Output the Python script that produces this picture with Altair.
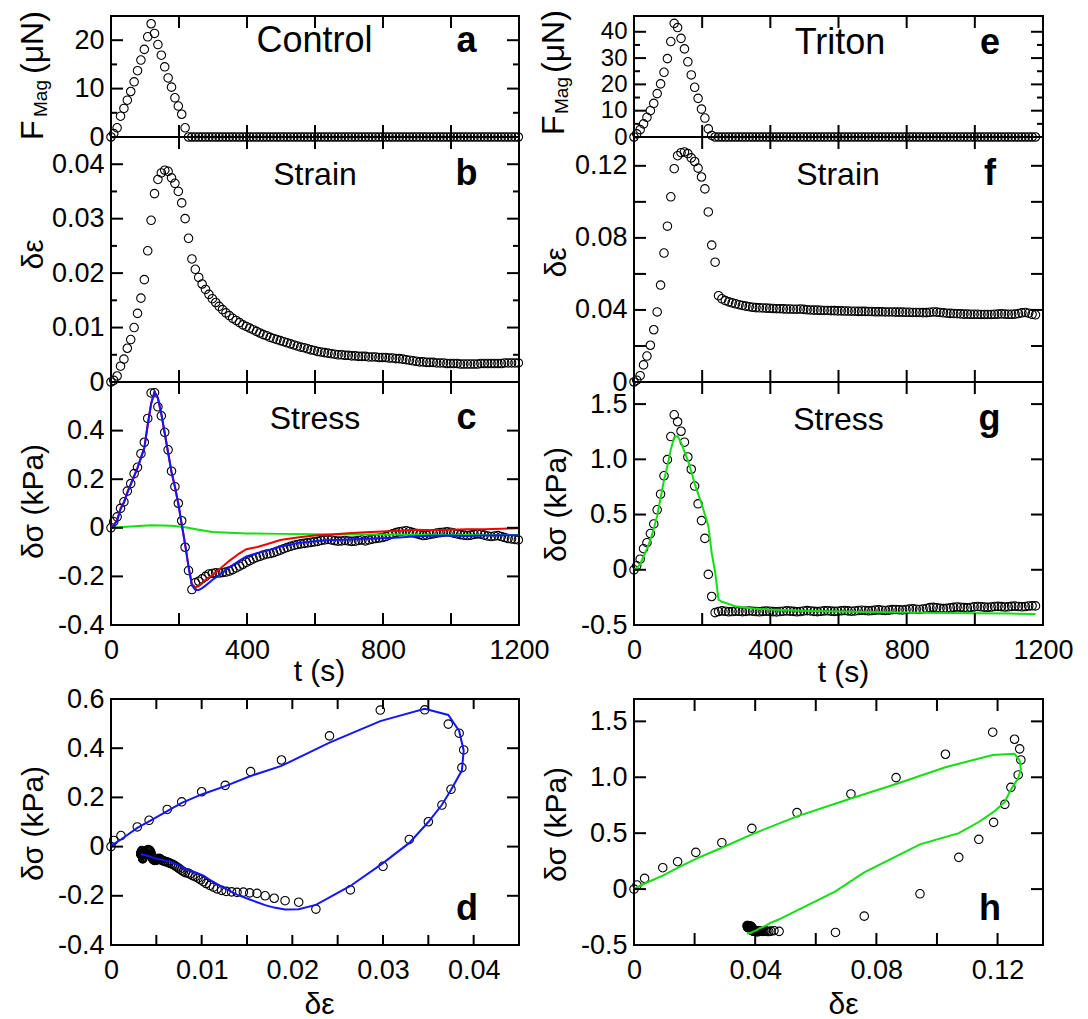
import altair as alt
import pandas as pd

FONT = "Liberation Sans"

# ---------------- data ----------------
# Control: sampling times (s)
T_CTRL = [0] + list(range(8, 1199, 10))
F_CTRL = [0, 0.7, 1.9, 4.3, 5.9, 7.6, 9.4, 11.4, 13.7, 15.9, 18.1, 20.7, 23.4,
          21.4, 19.1, 16.9, 14.5, 12.2, 10.3, 8.1, 6.4, 4.7, 1.9, 0.0] + [0.0] * 97
STRAIN_CTRL = [0, 0.0003, 0.0011, 0.0029, 0.0042, 0.0062, 0.0078, 0.0100, 0.0126, 0.0154,
               0.0188, 0.0241, 0.0297, 0.0346, 0.0372, 0.0384, 0.0389, 0.0387, 0.0375, 0.0365,
               0.0350, 0.0329, 0.0300, 0.0264, 0.0226,
               0.0207, 0.0192, 0.0180, 0.0170, 0.0161, 0.0153, 0.0146, 0.0139, 0.0133, 0.0127,
               0.0122, 0.0117, 0.0113, 0.0109, 0.0105, 0.0102, 0.0099, 0.0096, 0.0093, 0.0090,
               0.0087, 0.0085, 0.0082, 0.0080, 0.0078, 0.0076, 0.0074, 0.0072, 0.0070, 0.0068,
               0.0066, 0.0064, 0.0063, 0.0061, 0.0059, 0.0058, 0.0056, 0.0055, 0.0054, 0.0053,
               0.0052, 0.0051, 0.0050, 0.0050, 0.0049, 0.0049, 0.0048, 0.0048, 0.0047, 0.0047,
               0.0047, 0.0046, 0.0046, 0.0046, 0.0045, 0.0045, 0.0045, 0.0044, 0.0044, 0.0043,
               0.0043, 0.0042, 0.0041, 0.0040, 0.0039, 0.0038, 0.0037, 0.0037, 0.0036, 0.0036,
               0.0036, 0.0035, 0.0035, 0.0035, 0.0034, 0.0034, 0.0034, 0.0034, 0.0033, 0.0033,
               0.0033, 0.0033, 0.0033, 0.0033, 0.0034, 0.0034, 0.0034, 0.0034, 0.0034, 0.0034,
               0.0034, 0.0035, 0.0035, 0.0035, 0.0035, 0.0035]
STRESS_CTRL = [0, 0.025, 0.045, 0.080, 0.107, 0.151, 0.182, 0.223, 0.249, 0.305,
               0.352, 0.450, 0.555, 0.556, 0.498, 0.461, 0.393, 0.321, 0.233, 0.169,
               0.101, 0.029, -0.080, -0.176, -0.254,
               -0.226, -0.220, -0.210, -0.200, -0.190, -0.188, -0.185, -0.186, -0.184, -0.182,
               -0.178, -0.172, -0.165, -0.158, -0.150, -0.142, -0.135, -0.128, -0.122, -0.118,
               -0.112, -0.108, -0.106, -0.102, -0.097, -0.092, -0.086, -0.081, -0.076, -0.072,
               -0.069, -0.066, -0.064, -0.062, -0.060, -0.058, -0.056, -0.052, -0.050, -0.048,
               -0.050, -0.053, -0.055, -0.054, -0.052, -0.054, -0.056, -0.055, -0.052, -0.050,
               -0.054, -0.050, -0.047, -0.044, -0.042, -0.040, -0.036, -0.030, -0.025, -0.020,
               -0.016, -0.014, -0.012, -0.015, -0.020, -0.024, -0.028, -0.032, -0.030, -0.027,
               -0.025, -0.022, -0.020, -0.018, -0.016, -0.018, -0.022, -0.025, -0.028, -0.030,
               -0.032, -0.030, -0.027, -0.025, -0.026, -0.030, -0.034, -0.036, -0.034, -0.032,
               -0.036, -0.040, -0.044, -0.046, -0.048, -0.050]
# model curves (control)
T_FIT_CTRL = [0, 8, 18, 28, 38, 48, 58, 68, 78, 88, 98, 108, 118, 128, 138, 148, 158, 168,
              178, 188, 198, 208, 218, 228, 238, 248,
              258, 268, 278, 298, 318, 348, 378, 398, 428, 458, 498, 548, 598, 648, 698,
              748, 798, 848, 898, 948, 998, 1048, 1098, 1148, 1198]
BLUE_CTRL = [0, 0.010, 0.029, 0.076, 0.103, 0.144, 0.178, 0.212, 0.246, 0.287, 0.328, 0.423,
             0.510, 0.560, 0.535, 0.470, 0.390, 0.310, 0.230, 0.170, 0.100, 0.015, -0.067,
             -0.160, -0.237, -0.255,
             -0.256, -0.248, -0.238, -0.215, -0.195, -0.163, -0.135, -0.118, -0.105, -0.095,
             -0.078, -0.063, -0.055, -0.050, -0.048, -0.045, -0.043, -0.040, -0.035, -0.033,
             -0.032, -0.034, -0.032, -0.031, -0.031]
RED_CTRL = [0, 0.012, 0.032, 0.080, 0.106, 0.147, 0.180, 0.214, 0.248, 0.289, 0.330, 0.425,
            0.512, 0.558, 0.532, 0.468, 0.388, 0.308, 0.228, 0.168, 0.098, 0.013, -0.069,
            -0.160, -0.232, -0.245,
            -0.240, -0.226, -0.215, -0.195, -0.172, -0.136, -0.105, -0.088, -0.080, -0.068,
            -0.050, -0.040, -0.032, -0.028, -0.022, -0.018, -0.015, -0.012, -0.008, -0.010,
            -0.008, -0.006, -0.006, -0.004, -0.002]
T_GREEN_CTRL = [0, 58, 118, 178, 218, 258, 298, 398, 498, 598, 798, 998, 1198]
GREEN_CTRL = [0, 0.005, 0.010, 0.008, 0.002, -0.008, -0.017, -0.023, -0.025, -0.027, -0.028,
              -0.030, -0.030]

# Triton
T_TRI = [0] + list(range(8, 1179, 10))
F_TRI = [0, 1.2, 2.8, 5.0, 7.5, 10.0, 12.8, 16.5, 20.2, 24.6, 29.8, 36.3, 43.2,
         41.6, 37.5, 33.5, 28.6, 23.6, 18.9, 14.7, 10.6, 7.2, 3.1, 0.6] + [0.0] * 95
STRAIN_TRI = [0, 0.0010, 0.0035, 0.0095, 0.0144, 0.0204, 0.0290, 0.0389, 0.0538, 0.0716,
              0.0865, 0.1028, 0.1184, 0.1256, 0.1273, 0.1277, 0.1268, 0.1244, 0.1224, 0.1187,
              0.1138, 0.1072, 0.0944, 0.0760, 0.0665,
              0.0479, 0.0462, 0.0452, 0.0445, 0.0439, 0.0434, 0.0429, 0.0425, 0.0421, 0.0418,
              0.0415, 0.0413, 0.0412, 0.0411, 0.0410, 0.0409, 0.0408, 0.0407, 0.0407, 0.0406,
              0.0405, 0.0405, 0.0404, 0.0404, 0.0405, 0.0403, 0.0401, 0.0400, 0.0399, 0.0399,
              0.0398, 0.0397, 0.0397, 0.0396, 0.0396, 0.0395, 0.0395, 0.0394, 0.0394, 0.0393,
              0.0393, 0.0392, 0.0392, 0.0392, 0.0391, 0.0391, 0.0390, 0.0390, 0.0390, 0.0389,
              0.0389, 0.0389, 0.0388, 0.0388, 0.0388, 0.0387, 0.0387, 0.0386, 0.0386, 0.0386,
              0.0385, 0.0385, 0.0387, 0.0389, 0.0388, 0.0386, 0.0384, 0.0382, 0.0381, 0.0380,
              0.0379, 0.0378, 0.0377, 0.0377, 0.0376, 0.0376, 0.0376, 0.0375, 0.0375, 0.0375,
              0.0375, 0.0376, 0.0377, 0.0378, 0.0377, 0.0376, 0.0376, 0.0377, 0.0380, 0.0384,
              0.0386, 0.0382, 0.0376, 0.0373]
STRESS_TRI = [0, 0.036, 0.096, 0.191, 0.245, 0.328, 0.415, 0.543, 0.684, 0.851,
              0.997, 1.206, 1.403, 1.340, 1.254, 1.155, 1.021, 0.910, 0.758, 0.597,
              0.445, 0.284, -0.042, -0.242, -0.388,
              -0.378, -0.372, -0.376, -0.380, -0.378, -0.374, -0.376, -0.379, -0.377, -0.373,
              -0.375, -0.378, -0.380, -0.377, -0.374, -0.376, -0.379, -0.381, -0.378, -0.375,
              -0.372, -0.374, -0.377, -0.380, -0.378, -0.373, -0.370, -0.373, -0.377, -0.379,
              -0.376, -0.372, -0.371, -0.374, -0.377, -0.375, -0.371, -0.369, -0.372, -0.375,
              -0.373, -0.369, -0.366, -0.368, -0.371, -0.369, -0.365, -0.363, -0.366, -0.368,
              -0.365, -0.361, -0.359, -0.362, -0.364, -0.360, -0.356, -0.354, -0.357, -0.359,
              -0.355, -0.350, -0.343, -0.340, -0.344, -0.349, -0.352, -0.349, -0.344, -0.340,
              -0.337, -0.339, -0.343, -0.345, -0.341, -0.336, -0.333, -0.335, -0.338, -0.340,
              -0.337, -0.333, -0.331, -0.334, -0.337, -0.335, -0.331, -0.329, -0.332, -0.335,
              -0.333, -0.328, -0.326, -0.327]
T_GREEN_TRI = [0, 8, 18, 28, 38, 48, 58, 68, 78, 88, 98, 108, 118, 128, 138, 148, 158, 168,
               178, 188, 198, 208, 218, 228, 238, 248, 258,
               268, 278, 288, 298, 348, 398, 498, 598, 698, 798, 898, 998, 1098, 1178]
GREEN_TRI = [0, 0.015, 0.05, 0.12, 0.19, 0.27, 0.37, 0.49, 0.65, 0.81, 0.94, 1.09, 1.20, 1.21,
             1.15, 1.07, 0.99, 0.89, 0.78, 0.69, 0.60, 0.50, 0.40, 0.15, -0.02, -0.27, -0.29,
             -0.300, -0.310, -0.320, -0.330, -0.350, -0.360, -0.370, -0.378, -0.383, -0.387,
             -0.391, -0.394, -0.397, -0.400]

# texts
TITLES_CTRL = ["Control", "Strain", "Stress"]
TITLES_TRI = ["Triton", "Strain", "Stress"]
LETTERS = ["a", "b", "c", "d", "e", "f", "g", "h"]
FMAG = ["F", "Mag", "(\u03bcN)"]
T_TITLE = "t (s)"
EPS_TITLE = "\u03b4\u03b5"
SIG_TITLE = "\u03b4\u03c3 (kPa)"

BLUE = "#1414ff"
RED = "#f00000"
GREEN = "#10e010"

# ---------------- helpers ----------------
def fmt_expr(f):
    return ("datum.value == 0 ? '0' : replace(format(datum.value, '" + f + "'), '\u2212', '-')")


def series(tt, yy):
    return pd.DataFrame({"x": tt, "y": yy, "i": list(range(len(tt)))})


def param(t_sel, t_all, xs_all, ys):
    lut = dict(zip(t_all, xs_all))
    return pd.DataFrame({"x": [lut[t] for t in t_sel], "y": ys, "i": list(range(len(t_sel)))})


def tick_frame(W, H, xdom, ydom, xt, ytM, ytm, xlen):
    """Inward frame ticks as 2-point segments (positions from the tick values)."""
    x0, x1 = xdom
    y0, y1 = ydom
    ux = (x1 - x0) / W
    uy = (y1 - y0) / H
    rows = []
    tid = 0
    for v in xt:
        for ya, yb in ((y0, y0 + xlen * uy), (y1, y1 - xlen * uy)):
            rows += [(v, ya, tid, 0), (v, yb, tid, 1)]
            tid += 1
    for vals, ln in ((ytM, 12), (ytm, 6)):
        for v in vals:
            for xa, xb in ((x0, x0 + ln * ux), (x1, x1 - ln * ux)):
                rows += [(xa, v, tid, 0), (xb, v, tid, 1)]
                tid += 1
    return pd.DataFrame(rows, columns=["x", "y", "tid", "k"])


def panel(W, H, xdom, ydom, xaxis, yaxis, circles, lines, xt, ytM, ytm, texts,
          xlen=12, fmag=None):
    X = alt.X("x:Q", scale=alt.Scale(domain=xdom, nice=False, zero=False),
              axis=alt.Axis(**xaxis) if xaxis else None)
    Y = alt.Y("y:Q", scale=alt.Scale(domain=ydom, nice=False, zero=False),
              axis=alt.Axis(**yaxis))
    layers = [alt.Chart(circles).mark_point(shape="circle", filled=False, size=72,
                                            color="black", strokeWidth=1.1, opacity=1)
              .encode(x=X, y=Y)]
    for df, col in lines:
        layers.append(alt.Chart(df).mark_line(color=col, strokeWidth=2)
                      .encode(x=X, y=Y, order="i:Q"))
    ticks = tick_frame(W, H, xdom, ydom, xt, ytM, ytm, xlen)
    layers.append(alt.Chart(ticks).mark_line(color="black", strokeWidth=2)
                  .encode(x=X, y=Y, detail="tid:N", order="k:Q"))
    for txt, px, py, fs, fw in texts:
        layers.append(alt.Chart(pd.DataFrame({"label": [txt]}))
                      .mark_text(font=FONT, fontSize=fs, fontWeight=fw, color="black",
                                 align="center", baseline="alphabetic")
                      .encode(x=alt.value(px), y=alt.value(py), text="label:N"))
    if fmag:
        for txt, px, py, fs in fmag:
            layers.append(alt.Chart(pd.DataFrame({"label": [txt]}))
                          .mark_text(font=FONT, fontSize=fs, color="black", angle=270,
                                     align="left", baseline="alphabetic")
                          .encode(x=alt.value(px), y=alt.value(py), text="label:N"))
    return alt.layer(*layers).properties(width=W, height=H)


def spacer(W, H):
    return (alt.Chart(pd.DataFrame({"x": [0]}))
            .mark_point(opacity=0)
            .encode(x=alt.X("x:Q", axis=None), y=alt.Y("x:Q", axis=None))
            .properties(width=W, height=H,
                        view=alt.ViewBackground(stroke="transparent")))


def yax(vals, f, title=None, ty=None, fs=27):
    d = dict(values=vals, labelExpr=fmt_expr(f), labelPadding=7, labelFontSize=fs)
    if title:
        d.update(title=title, titleX=-78, titleY=ty, titleAngle=270,
                 titleBaseline="middle", titleAlign="center")
    else:
        d.update(title=None)
    return d


def xax(vals, f, title, tx, ty):
    return dict(values=vals, labelExpr=fmt_expr(f), labelPadding=12, title=title,
                titleX=tx, titleY=ty, titleBaseline="middle", titleAlign="center")


W = 408
WR = 409
HA, HB, HC, HD = 121, 245, 243, 246
GAP = 74
TX = [200, 400, 600, 800, 1000]

# ---------------- control column ----------------
pa = panel(W, HA, [0, 1200], [0, 25], None, yax([0, 10, 20], "d"),
           series(T_CTRL, F_CTRL), [], TX, [10, 20], [5, 15],
           [(TITLES_CTRL[0], 203.5, 36, 36, "normal"), (LETTERS[0], 355.5, 36, 36, "bold")],
           fmag=[(FMAG[0], -68, 124, 32), (FMAG[1], -64, 101, 19), (FMAG[2], -68, 58, 32)])
pb = panel(W, HB, [0, 1200], [0, 0.045], None,
           yax([0, 0.01, 0.02, 0.03, 0.04], ".2f", EPS_TITLE, 117),
           series(T_CTRL, STRAIN_CTRL), [], TX, [0.01, 0.02, 0.03, 0.04],
           [0.005, 0.015, 0.025, 0.035],
           [(TITLES_CTRL[1], 204, 48, 32, "normal"), (LETTERS[1], 355.5, 48, 36, "bold")])
pc = panel(W, HC, [0, 1200], [-0.4, 0.6],
           xax([0, 400, 800, 1200], "d", T_TITLE, 208, 46),
           yax([-0.4, -0.2, 0, 0.2, 0.4], ".1f", SIG_TITLE, 119),
           series(T_CTRL, STRESS_CTRL),
           [(series(T_GREEN_CTRL, GREEN_CTRL), GREEN), (series(T_FIT_CTRL, RED_CTRL), RED),
            (series(T_FIT_CTRL, BLUE_CTRL), BLUE)],
           TX, [-0.2, 0, 0.2, 0.4], [],
           [(TITLES_CTRL[2], 204, 47, 32, "normal"), (LETTERS[2], 355.5, 47, 36, "bold")])
pd_ = panel(W, HD, [0, 0.045], [-0.4, 0.6],
            xax([0, 0.01, 0.02, 0.03, 0.04], ".2f", EPS_TITLE, 208, 59),
            yax([-0.4, -0.2, 0, 0.2, 0.4, 0.6], ".1f", SIG_TITLE, 124),
            pd.DataFrame({"x": STRAIN_CTRL, "y": STRESS_CTRL}),
            [(param(T_FIT_CTRL, T_CTRL, STRAIN_CTRL, BLUE_CTRL), BLUE)],
            [0.005, 0.01, 0.015, 0.02, 0.025, 0.03, 0.035, 0.04], [-0.2, 0, 0.2, 0.4], [],
            [(LETTERS[3], 356, 221, 36, "bold")], xlen=10)

# ---------------- triton column ----------------
pe = panel(WR, HA, [0, 1200], [0, 46], None, yax([0, 10, 20, 30, 40], "d", fs=24),
           series(T_TRI, F_TRI), [], TX, [10, 20, 30, 40], [5, 15, 25, 35],
           [(TITLES_TRI[0], 206, 38, 36, "normal"), (LETTERS[4], 356, 38, 36, "bold")],
           fmag=[(FMAG[0], -70, 119, 32), (FMAG[1], -66, 98, 19), (FMAG[2], -70, 57, 32)])
pf = panel(WR, HB, [0, 1200], [0, 0.136], None,
           yax([0, 0.04, 0.08, 0.12], ".2f", EPS_TITLE, 125),
           series(T_TRI, STRAIN_TRI), [], TX, [0.02, 0.04, 0.06, 0.08, 0.10, 0.12], [],
           [(TITLES_TRI[1], 204, 48, 32, "normal"), (LETTERS[5], 356, 48, 36, "bold")])
pg = panel(WR, HC, [0, 1200], [-0.5, 1.7],
           xax([0, 400, 800, 1200], "d", T_TITLE, 209, 47),
           yax([-0.5, 0, 0.5, 1.0, 1.5], ".1f", SIG_TITLE, 122),
           series(T_TRI, STRESS_TRI), [(series(T_GREEN_TRI, GREEN_TRI), GREEN)],
           TX, [0, 0.5, 1.0, 1.5], [],
           [(TITLES_TRI[2], 204.5, 48, 32, "normal"), (LETTERS[6], 355.5, 48, 36, "bold")])
ph = panel(WR, HD, [0, 0.135], [-0.5, 1.7],
           xax([0, 0.04, 0.08, 0.12], ".2f", EPS_TITLE, 209, 59),
           yax([-0.5, 0, 0.5, 1.0, 1.5], ".1f", SIG_TITLE, 125),
           pd.DataFrame({"x": STRAIN_TRI, "y": STRESS_TRI}),
           [(param(T_GREEN_TRI, T_TRI, STRAIN_TRI, GREEN_TRI), GREEN)],
           [0.02, 0.04, 0.06, 0.08, 0.10, 0.12], [0, 0.5, 1.0, 1.5], [],
           [(LETTERS[7], 356, 221, 36, "bold")])

chart = (alt.concat(pa, pe, pb, pf, pc, pg, spacer(W, GAP), spacer(WR, GAP), pd_, ph,
                    columns=2, spacing={"row": 0, "column": 115}, bounds="flush")
         .properties(padding={"left": 7, "top": 1, "right": 5, "bottom": 2})
         .configure_view(stroke="black", strokeWidth=2)
         .configure_axis(labelFont=FONT, titleFont=FONT, labelFontSize=27, titleFontSize=30,
                         titleFontWeight="normal", labelColor="black", titleColor="black",
                         grid=False, domain=False, ticks=False, tickSize=0,
                         labelFlush=False, labelOverlap=False))

chart.save("out.html", embed_options={"renderer": "svg", "actions": False})
